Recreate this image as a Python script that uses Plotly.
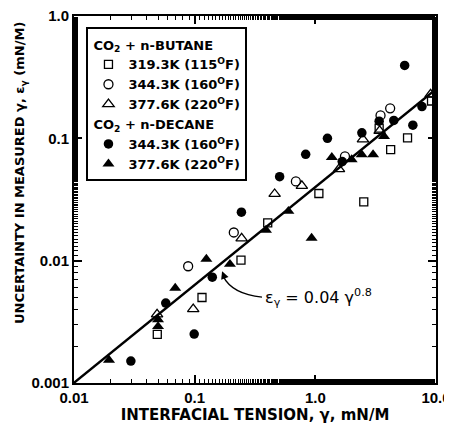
import numpy as np
import plotly.graph_objects as go

# CO2 + n-BUTANE, 319.3K (115 F) - open squares
sq_x = [0.049, 0.115, 0.242, 0.403, 1.07, 2.52, 3.38, 4.21, 5.81, 9.18]
sq_y = [0.0025, 0.0050, 0.0101, 0.0204, 0.0354, 0.0302, 0.121, 0.0809, 0.101, 0.202]
# CO2 + n-BUTANE, 344.3K (160 F) - open circles
oc_x = [0.0883, 0.211, 0.690, 1.76, 3.47, 4.17]
oc_y = [0.0090, 0.0170, 0.0444, 0.0713, 0.154, 0.176]
# CO2 + n-BUTANE, 377.6K (220 F) - open triangles
ot_x = [0.0488, 0.0973, 0.245, 0.460, 0.773, 1.57, 2.48, 3.41, 9.02]
ot_y = [0.00364, 0.00402, 0.0152, 0.0351, 0.0409, 0.0561, 0.0982, 0.115, 0.229]
# CO2 + n-DECANE, 344.3K (160 F) - filled circles
fc_x = [0.0296, 0.0576, 0.0991, 0.140, 0.244, 0.506, 0.832, 1.26, 1.67, 2.43, 3.38, 4.47, 5.50, 6.43, 7.65]
fc_y = [0.00151, 0.00450, 0.00251, 0.00733, 0.0249, 0.0486, 0.0740, 0.100, 0.0646, 0.111, 0.138, 0.140, 0.394, 0.128, 0.182]
# CO2 + n-DECANE, 377.6K (220 F) - filled triangles
ft_x = [0.0195, 0.0497, 0.0497, 0.0690, 0.125, 0.196, 0.390, 0.598, 0.931, 1.37, 2.00, 2.42, 3.01, 3.71]
ft_y = [0.00154, 0.0033, 0.0029, 0.00597, 0.0103, 0.00936, 0.0178, 0.0254, 0.0153, 0.0700, 0.0670, 0.0736, 0.0736, 0.104]

x_tickvals = [0.01, 0.1, 1.0, 10.0]
x_ticktext = ["0.01", "0.1", "1.0", "10.0"]
y_tickvals = [0.001, 0.01, 0.1, 1.0]
y_ticktext = ["0.001", "0.01", "0.1", "1.0"]

FONT = "Liberation Sans"
WIDE = "DejaVu Sans"
fig = go.Figure()

# fit line eps = 0.04 * gamma^0.8
gx = np.logspace(-2, 1, 50)
fig.add_trace(go.Scatter(x=gx, y=0.04 * gx ** 0.8, mode="lines",
                         line=dict(color="black", width=2.5), showlegend=False, hoverinfo="skip"))

def add(xs, ys, name, symbol, size, group, title=None):
    kw = {}
    if title:
        kw["legendgrouptitle"] = dict(text=title, font=dict(family=WIDE, size=13, color="black", weight="bold"))
    open_ = symbol.endswith("-open")
    fig.add_trace(go.Scatter(
        x=xs, y=ys, mode="markers", name=name, legendgroup=group,
        marker=dict(symbol=symbol, size=size, color="black",
                    line=dict(color="black", width=1.3 if open_ else 0)),
        **kw))

add(sq_x, sq_y, "319.3K (115<sup>O</sup>F)", "square-open", 8, "b", "CO<sub>2</sub> + n-BUTANE")
add(oc_x, oc_y, "344.3K (160<sup>O</sup>F)", "circle-open", 9, "b")
add(ot_x, ot_y, "377.6K (220<sup>O</sup>F)", "triangle-up-open", 10, "b")
add(fc_x, fc_y, "344.3K (160<sup>O</sup>F)", "circle", 9.5, "d", "CO<sub>2</sub> + n-DECANE")
add(ft_x, ft_y, "377.6K (220<sup>O</sup>F)", "triangle-up", 10.5, "d")

# plot area in page pixels (page has an 8px body margin)
OFF = 8
FW, FH = 452 - OFF, 426 - OFF
L, R, T, B = 73.5, 436.5, 15.5, 383.0
W, H = R - L, B - T
def px(x): return (x - L) / W
def py(y): return (B - y) / H

# curved pointer to the line and equation label
fig.add_shape(type="path", xref="paper", yref="paper",
              path=f"M {px(223)},{py(276)} Q {px(232)},{py(294)} {px(262)},{py(297)}",
              line=dict(color="black", width=1.3))
fig.add_annotation(xref="paper", yref="paper", x=px(222), y=py(271), ax=3, ay=8,
                   text="", showarrow=True, arrowhead=2, arrowsize=1.2, arrowwidth=1.3, arrowcolor="black")
fig.add_annotation(xref="paper", yref="paper", x=px(263), y=py(297), xanchor="left", yanchor="middle",
                   text="ε<sub>γ</sub> = 0.04 γ<sup>0.8</sup>", showarrow=False,
                   font=dict(family=WIDE, size=16, color="black"))

# y-axis title (positioned as in the reference, above centre)
fig.add_annotation(xref="paper", yref="paper", x=px(20), y=py(173), xanchor="center", yanchor="middle",
                   textangle=-90, showarrow=False,
                   text="UNCERTAINTY IN MEASURED γ, ε<sub>γ</sub> (mN/M)",
                   font=dict(family=WIDE, size=13, color="black", weight="bold"))

axis_common = dict(type="log", showgrid=False, zeroline=False, showline=True, linecolor="black",
                   linewidth=2, mirror="allticks", ticks="inside", ticklen=8, tickwidth=1.5,
                   tickcolor="black", automargin=False, ticklabeloverflow="allow",
                   minor=dict(ticks="inside", ticklen=4, tickwidth=1, tickcolor="black", showgrid=False),
                   tickfont=dict(family=FONT, size=15, color="black", weight="bold"))

fig.update_xaxes(range=[-2, 1], tickvals=x_tickvals, ticktext=x_ticktext,
                 title=dict(text="INTERFACIAL TENSION, γ, mN/M", standoff=2,
                            font=dict(family=WIDE, size=15, color="black", weight="bold")),
                 **axis_common)
fig.update_yaxes(range=[-3, 0], tickvals=y_tickvals, ticktext=y_ticktext, **axis_common)

fig.update_layout(
    width=FW, height=FH, autosize=False,
    margin=dict(l=L - OFF, r=FW - (R - OFF), t=T - OFF, b=FH - (B - OFF), pad=0),
    paper_bgcolor="white", plot_bgcolor="white",
    font=dict(family=FONT, color="black"),
    legend=dict(x=px(86), y=py(27), xanchor="left", yanchor="top",
                bgcolor="white", bordercolor="black", borderwidth=2,
                traceorder="grouped", tracegroupgap=0, itemwidth=30,
                font=dict(family=WIDE, size=13, color="black", weight="bold")),
)

fig.write_html("out.html")
